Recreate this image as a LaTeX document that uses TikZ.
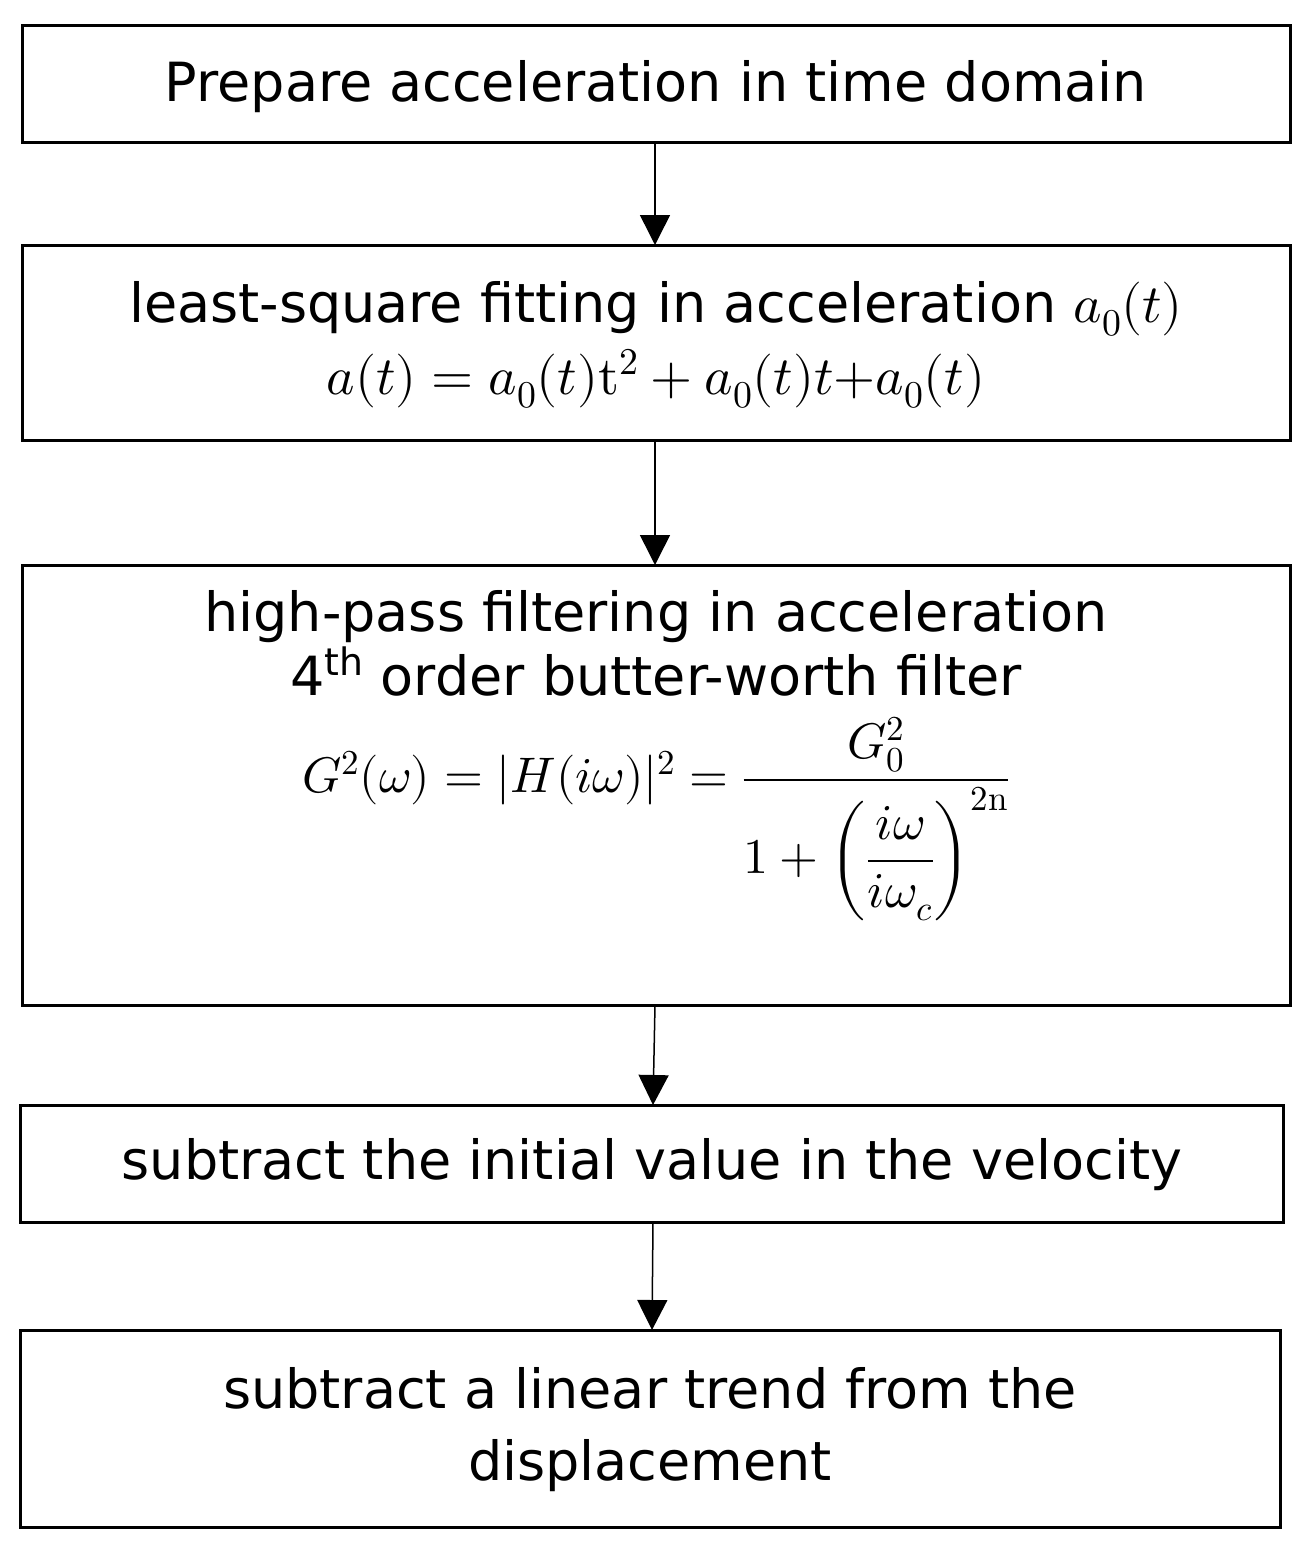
\documentclass[tikz,border=0pt]{standalone}
\usepackage{amsmath}
\usepackage{unicode-math}
\setmainfont{DejaVu Sans}
\setmathfont{Latin Modern Math}
\usetikzlibrary{arrows.meta}
\begin{document}
\begin{tikzpicture}[x=1pt,y=-1pt,
 box/.style={font=\fontsize{54}{66}\selectfont,align=center,inner sep=0pt},
 frame/.style={line width=3pt},
 arr/.style={line width=1.5pt,-{Triangle[length=30pt,width=30pt]}}]
\useasboundingbox (0,0) rectangle (1309,1548);
\draw[frame] (22,25) rectangle (1290,142);
\node[box] (b1) at (656,87) {Prepare acceleration in time domain};
\draw[frame] (22,245) rectangle (1290,440);
\node[box] (b2) at (656,345) {least-square fitting in acceleration $a_0(t)$\\[6pt] $a(t)=a_0(t)\symup{t}^2+a_0(t)t{+}a_0(t)$};
\draw[frame] (22,565) rectangle (1290,1005);
\node[box,anchor=north] (b3) at (656,590) {high-pass filtering in acceleration\\[-2pt]
4\textsuperscript{th} order butter-worth filter\\[20pt]
{\fontsize{50}{60}\selectfont$\displaystyle G^2(\omega)=|H(i\omega)|^2=\frac{G_0^2}{1+\left(\dfrac{i\omega}{i\omega_c}\right)^{2\symup{n}}}$}};
\draw[frame] (20,1105) rectangle (1283,1222);
\node[box] (b4) at (652,1165) {subtract the initial value in the velocity};
\draw[frame] (20,1330) rectangle (1280,1527);
\node[box] (b5) at (650,1430) {subtract a linear trend from the\\[6pt] displacement};
\coordinate (t1) at (655,142); \coordinate (h2) at (655,245);
\coordinate (t2) at (655,440); \coordinate (h3) at (655,565);
\coordinate (t3) at (655,1005); \coordinate (h4) at (653,1105);
\coordinate (t4) at (653,1222); \coordinate (h5) at (652,1330);
\draw[arr] (t1) -- (h2);
\draw[arr] (t2) -- (h3);
\draw[arr] (t3) -- (h4);
\draw[arr] (t4) -- (h5);
\end{tikzpicture}
\end{document}
